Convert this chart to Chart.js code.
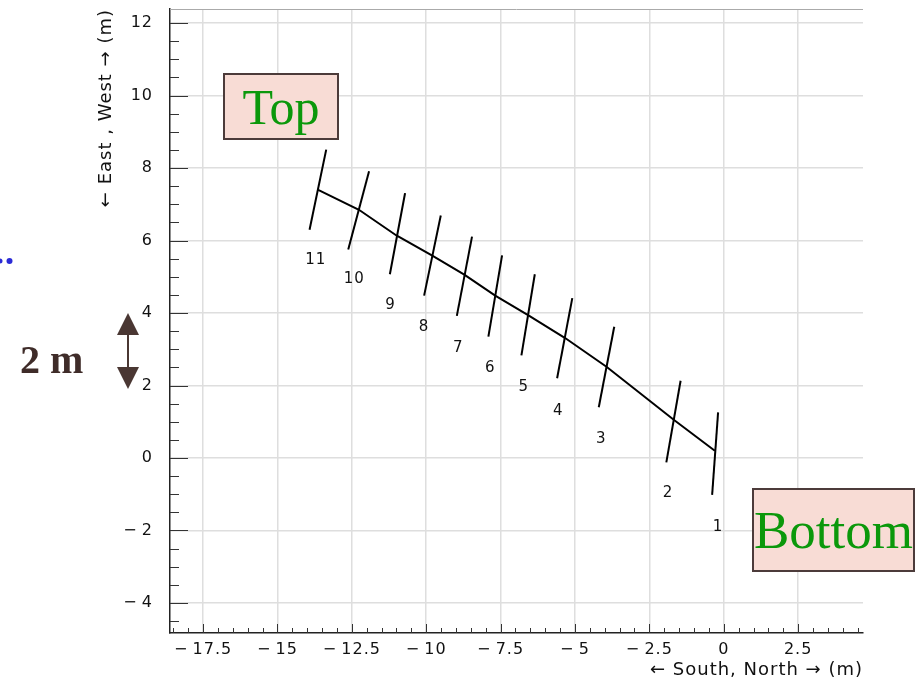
<!DOCTYPE html>
<html>
<head>
<meta charset="utf-8">
<script src="https://cdn.jsdelivr.net/npm/chart.js@4.4.1/dist/chart.umd.min.js"></script>
<style>
  body { margin: 0; background: #fff; }
  #wrap { position: relative; width: 923px; height: 681px; overflow: hidden; }
  #wrap canvas { position: absolute; left: 0; top: 0; }
  .tag {
    position: absolute; box-sizing: border-box;
    background: #f8dcd5; border: 2px solid #4c3b3a;
    color: #0b980b; font-family: 'Liberation Serif', 'DejaVu Serif', serif;
    display: flex; align-items: center; justify-content: center;
    white-space: nowrap;
  }
  #topTag { left: 223px; top: 73px; width: 116px; height: 67px; font-size: 50px; }
  #botTag { left: 752px; top: 488px; width: 163px; height: 84px; font-size: 53px; }
  #twoM {
    position: absolute; left: 20px; top: 336px;
    font: bold 40px 'Liberation Serif', serif; color: #3f2c29;
  }
  #deco { position: absolute; left: 0; top: 0; }
</style>
</head>
<body>
<div id="wrap">
  <canvas id="myChart" width="923" height="681"></canvas>
  <svg id="deco" width="923" height="681">
    <line x1="128" y1="330" x2="128" y2="372" stroke="#4a3733" stroke-width="2"/>
    <polygon points="128,313 117,335 139,335" fill="#4a3733"/>
    <polygon points="128,389 117,367 139,367" fill="#4a3733"/>
    <circle cx="9.5" cy="261" r="3" fill="#2b2bd6"/>
    <circle cx="0" cy="261" r="2.5" fill="#2b2bd6"/>
  </svg>
  <div class="tag" id="topTag">Top</div>
  <div class="tag" id="botTag">Bottom</div>
  <div id="twoM">2 m</div>
</div>
<script>
// module numbers, counted from the bottom of the slope
var modules = ['1', '2', '3', '4', '5', '6', '7', '8', '9', '10', '11'];

// centre of each module (the line through them)
var centerX = [-0.30, -1.67, -3.93, -5.33, -6.59, -7.68, -8.72, -9.81, -11.00, -12.26, -13.63];
var centerY = [0.20, 1.05, 2.51, 3.31, 3.95, 4.48, 5.06, 5.59, 6.14, 6.85, 7.40];

// ends of the cross bar drawn at each module
var barTopX = [-0.19, -1.45, -3.68, -5.09, -6.35, -7.45, -8.46, -9.51, -10.71, -11.92, -13.36];
var barTopY = [1.26, 2.13, 3.62, 4.41, 5.07, 5.59, 6.11, 6.69, 7.31, 7.91, 8.51];
var barBotX = [-0.39, -1.93, -4.20, -5.60, -6.80, -7.91, -8.97, -10.07, -11.22, -12.62, -13.92];
var barBotY = [-1.02, -0.12, 1.40, 2.20, 2.83, 3.35, 3.92, 4.48, 5.07, 5.75, 6.30];

// where the module numbers are written
var labelX = [-0.19, -1.87, -4.12, -5.56, -6.72, -7.85, -8.92, -10.07, -11.20, -12.42, -13.71];
var labelY = [-1.90, -0.98, 0.52, 1.30, 1.95, 2.48, 3.03, 3.60, 4.23, 4.94, 5.45];

var xTicks = [-17.5, -15, -12.5, -10, -7.5, -5, -2.5, 0, 2.5];
var yTicks = [-4, -2, 0, 2, 4, 6, 8, 10, 12];

Chart.defaults.font.family = "'DejaVu Sans', sans-serif";
Chart.defaults.color = '#111';

var datasets = [{
    data: centerX.map(function (x, i) { return {x: x, y: centerY[i]}; }),
    showLine: true,
    borderColor: '#000',
    borderWidth: 2,
    pointRadius: 0
}];
modules.forEach(function (m, i) {
    datasets.push({
        data: [{x: barTopX[i], y: barTopY[i]}, {x: barBotX[i], y: barBotY[i]}],
        showLine: true,
        borderColor: '#000',
        borderWidth: 2,
        pointRadius: 0
    });
});

// wider spaced text, like the ROOT output
var spacing = {
    id: 'spacing',
    beforeDraw: function (chart) { chart.ctx.letterSpacing = '1px'; }
};

var numberPlugin = {
    id: 'numbers',
    afterDatasetsDraw: function (chart) {
        var ctx = chart.ctx, sx = chart.scales.x, sy = chart.scales.y;
        ctx.save();
        ctx.font = "15px 'DejaVu Sans', sans-serif";
        ctx.fillStyle = '#111';
        ctx.textAlign = 'center';
        ctx.textBaseline = 'middle';
        modules.forEach(function (m, i) {
            ctx.fillText(m, sx.getPixelForValue(labelX[i]), sy.getPixelForValue(labelY[i]));
        });
        ctx.restore();
    }
};

// ROOT style inward tick marks, plus the top frame line
var frameTicks = {
    id: 'frameTicks',
    afterDraw: function (chart) {
        var ctx = chart.ctx, a = chart.chartArea, sx = chart.scales.x, sy = chart.scales.y;
        ctx.save();
        ctx.strokeStyle = '#aaa';
        ctx.lineWidth = 1;
        ctx.beginPath();
        ctx.moveTo(a.left, a.top + 0.5);
        ctx.lineTo(a.right, a.top + 0.5);
        ctx.stroke();
        ctx.strokeStyle = '#333';
        ctx.beginPath();
        for (var v = -18.5; v <= 4.5; v += 0.5) {
            var px = Math.round(sx.getPixelForValue(v)) + 0.5;
            var len = Math.abs(v / 2.5 - Math.round(v / 2.5)) < 1e-6 ? 9 : 5;
            ctx.moveTo(px, a.bottom);
            ctx.lineTo(px, a.bottom - len);
        }
        for (var w = -4.5; w <= 12; w += 0.5) {
            var py = Math.round(sy.getPixelForValue(w)) + 0.5;
            var l2 = Math.abs(w / 2 - Math.round(w / 2)) < 1e-6 ? 18 : 9;
            ctx.moveTo(a.left, py);
            ctx.lineTo(a.left + l2, py);
        }
        ctx.stroke();
        ctx.restore();
    }
};

function minus(v) { return String(v).replace('-', '\u2212\u2009'); }

var ctx = document.getElementById('myChart').getContext('2d');
var myChart = new Chart(ctx, {
    type: 'scatter',
    data: { datasets: datasets },
    options: {
        responsive: false,
        animation: false,
        events: [],
        layout: { padding: { left: 95, top: 9, right: 60, bottom: 0 } },
        plugins: { legend: { display: false }, tooltip: { enabled: false } },
        scales: {
            x: {
                type: 'linear',
                min: -18.61,
                max: 4.68,
                afterBuildTicks: function (s) { s.ticks = xTicks.map(function (v) { return {value: v}; }); },
                afterFit: function (s) { s.height = 48; s.paddingLeft = 0; s.paddingRight = 0; },
                grid: { color: '#dedede', lineWidth: 1.5, drawTicks: false },
                border: { color: '#222', width: 1.5 },
                ticks: { font: { size: 16 }, padding: 7, maxRotation: 0, autoSkip: false, callback: minus },
                title: { display: true, text: '\u2190 South, North \u2192 (m)', align: 'end', font: { size: 18 }, padding: { top: 2, bottom: 0 } }
            },
            y: {
                type: 'linear',
                min: -4.83,
                max: 12.39,
                afterBuildTicks: function (s) { s.ticks = yTicks.map(function (v) { return {value: v}; }); },
                afterFit: function (s) { s.width = 75; s.paddingTop = 0; s.paddingBottom = 0; },
                grid: { color: '#dedede', lineWidth: 1.5, drawTicks: false },
                border: { color: '#222', width: 1.5 },
                ticks: { font: { size: 16 }, padding: 17, autoSkip: false, callback: minus },
                title: { display: true, text: '\u2190 East , West \u2192 (m)', align: 'end', font: { size: 18 }, padding: { top: 1, bottom: 0 } }
            }
        }
    },
    plugins: [spacing, numberPlugin, frameTicks]
});
</script>
</body>
</html>
